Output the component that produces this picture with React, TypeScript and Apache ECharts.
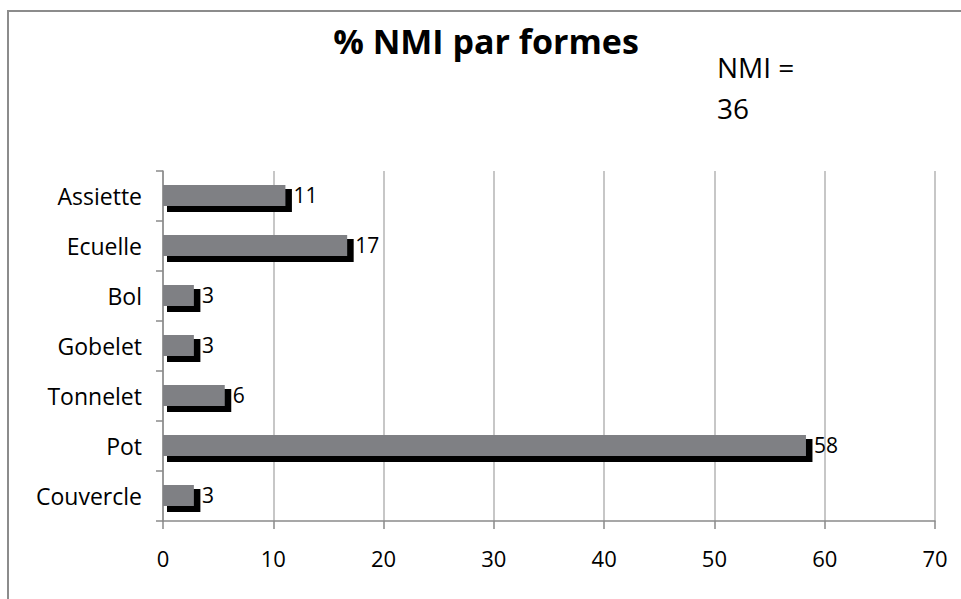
import React, { useEffect, useRef } from "react";
import * as echarts from "echarts";

const categories = ["Assiette", "Ecuelle", "Bol", "Gobelet", "Tonnelet", "Pot", "Couvercle"];
const percentValues = [11.1, 16.7, 2.8, 2.8, 5.6, 58.3, 2.8];
const valueLabels = ["11", "17", "3", "3", "6", "58", "3"];
const xTicks = [0, 10, 20, 30, 40, 50, 60, 70];
const titleText = "% NMI par formes";
const noteLines = ["NMI =", "36"];

const FONT = "'Open Sans', 'DejaVu Sans', sans-serif";

export default function App() {
  const ref = useRef<HTMLDivElement>(null);
  useEffect(() => {
    if (!ref.current) return;
    const chart = echarts.init(ref.current, null, { renderer: "svg" });
    const data = percentValues.map((v, i) => [v, i, valueLabels[i]]);
    chart.setOption({
      animation: false,
      backgroundColor: "#ffffff",
      grid: { left: 163, right: 26, top: 171, bottom: 78, containLabel: false },
      xAxis: {
        type: "value",
        min: xTicks[0],
        max: xTicks[xTicks.length - 1],
        interval: 10,
        axisLine: { show: true, lineStyle: { color: "#8a8a8a", width: 1.5 } },
        axisTick: { show: true, length: 8, lineStyle: { color: "#8a8a8a", width: 1.5 } },
        splitLine: { show: true, lineStyle: { color: "#b4b4b4", width: 1.5 } },
        axisLabel: { color: "#000", fontSize: 22, fontFamily: FONT, margin: 26 },
      },
      yAxis: {
        type: "category",
        inverse: true,
        data: categories,
        axisLine: { show: true, lineStyle: { color: "#8a8a8a", width: 1.5 } },
        axisTick: { show: true, length: 7, lineStyle: { color: "#8a8a8a", width: 1.5 } },
        axisLabel: { color: "#000", fontSize: 23, fontFamily: FONT, margin: 21, padding: [3, 0, 0, 0] },
        splitLine: { show: false },
      },
      graphic: [
        { type: "line", shape: { x1: 8, y1: 11, x2: 961, y2: 11 }, style: { stroke: "#8c8c8c", lineWidth: 2 } },
        { type: "line", shape: { x1: 8, y1: 10, x2: 8, y2: 599 }, style: { stroke: "#8c8c8c", lineWidth: 2 } },
        {
          type: "text",
          x: 486,
          y: 41,
          style: { text: titleText, fill: "#000", font: `bold 34px ${FONT}`, align: "center", verticalAlign: "middle" },
        },
        {
          type: "text",
          x: 717,
          y: 67,
          style: { text: noteLines[0], fill: "#000", font: `28px ${FONT}`, align: "left", verticalAlign: "middle" },
        },
        {
          type: "text",
          x: 717,
          y: 108,
          style: { text: noteLines[1], fill: "#000", font: `28px ${FONT}`, align: "left", verticalAlign: "middle" },
        },
      ],
      series: [
        {
          type: "custom",
          encode: { x: 0, y: 1 },
          data,
          renderItem: (params: any, api: any) => {
            const v = api.value(0);
            const idx = api.value(1);
            const start = api.coord([0, idx]);
            const end = api.coord([v, idx]);
            const band = api.size([0, 1])[1];
            const h = band * 0.42;
            const w = end[0] - start[0];
            const y0 = start[1] - h / 2 - 0.5;
            return {
              type: "group",
              children: [
                {
                  type: "rect",
                  shape: { x: start[0] + 4, y: y0 + 4, width: w + 2.5, height: h + 2 },
                  style: { fill: "#000000" },
                },
                {
                  type: "rect",
                  shape: { x: start[0], y: y0, width: w, height: h },
                  style: { fill: "#7f8084" },
                },
                {
                  type: "text",
                  x: end[0] + 8,
                  y: start[1] - 1,
                  style: {
                    text: String(api.value(2)),
                    fill: "#000",
                    font: `21px ${FONT}`,
                    align: "left",
                    verticalAlign: "middle",
                  },
                },
              ],
            };
          },
        },
      ],
    });
    return () => chart.dispose();
  }, []);
  return (
    <div
      ref={ref}
      style={{ position: "fixed", left: 0, top: 0, width: 961, height: 599 }}
    />
  );
}
